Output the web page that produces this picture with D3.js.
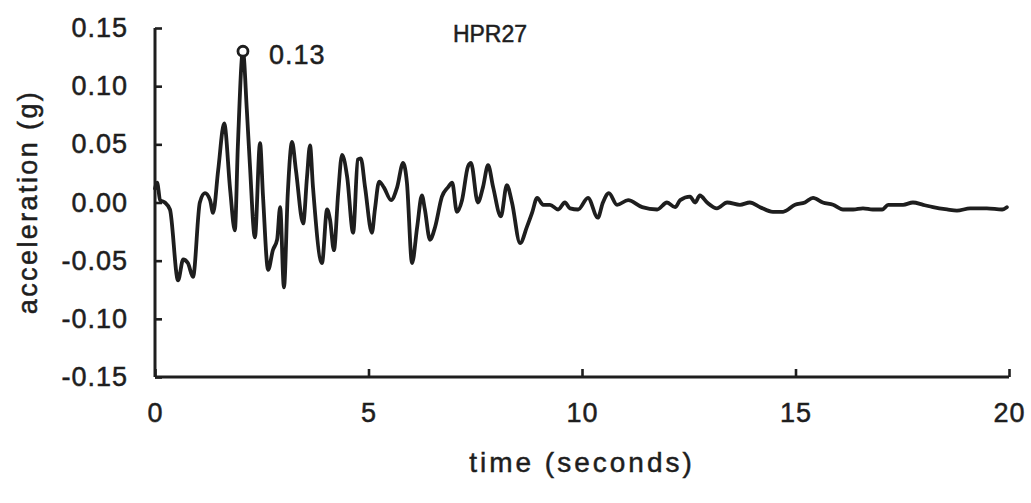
<!DOCTYPE html>
<html>
<head>
<meta charset="utf-8">
<script src="https://cdn.jsdelivr.net/npm/d3@7"></script>
<style>
  html, body { margin: 0; padding: 0; background: #ffffff; }
  svg { display: block; }
  text { font-family: "Liberation Sans", Arial, Helvetica, sans-serif; fill: #1e1e1e; stroke: #1e1e1e; stroke-width: 0.5px; }
</style>
</head>
<body>
<svg id="chart" width="1031" height="503"></svg>
<script>
// ---- data ----
const title = "HPR27";
const xLabel = "time (seconds)";
const yLabel = "acceleration (g)";
const xTicks = [0, 5, 10, 15, 20];
const yTicks = [0.15, 0.10, 0.05, 0.00, -0.05, -0.10, -0.15];
const peakTime = 2.06;
const peakValue = 0.13;
const peakText = "0.13";

const times = [
  0.00, 0.05, 0.12, 0.23, 0.35, 0.54, 0.66, 0.77, 0.89, 1.05,
  1.17, 1.29, 1.36, 1.48, 1.62, 1.76, 1.87, 1.94, 2.06, 2.15,
  2.22, 2.34, 2.46, 2.53, 2.65, 2.76, 2.86, 2.93, 3.02, 3.11,
  3.21, 3.30, 3.47, 3.56, 3.63, 3.70, 3.91, 4.03, 4.10, 4.19,
  4.29, 4.38, 4.50, 4.64, 4.75, 4.82, 4.92, 5.08, 5.15, 5.25,
  5.36, 5.53, 5.67, 5.81, 5.90, 6.02, 6.14, 6.25, 6.32, 6.44,
  6.56, 6.72, 6.86, 6.96, 7.07, 7.19, 7.33, 7.40, 7.56, 7.68,
  7.80, 7.92, 8.10, 8.24, 8.36, 8.55, 8.71, 8.83, 8.95, 9.09,
  9.25, 9.44, 9.60, 9.72, 9.91, 10.14, 10.37, 10.49, 10.63, 10.82,
  11.08, 11.41, 11.76, 11.99, 12.18, 12.30, 12.53, 12.65, 12.76, 12.93,
  13.16, 13.40, 13.70, 13.93, 14.17, 14.47, 14.71, 14.99, 15.22, 15.41,
  15.64, 15.88, 16.11, 16.35, 16.58, 16.81, 17.03, 17.17, 17.52, 17.75,
  17.99, 18.22, 18.55, 18.78, 19.09, 19.48, 19.84, 19.95
];
const accel = [
  0.012, 0.017, 0.002, 0.000, -0.006, -0.067, -0.049, -0.052, -0.064, 0.000,
  0.008, 0.002, -0.009, 0.028, 0.068, 0.011, -0.024, 0.048, 0.130, 0.080,
  0.034, -0.030, 0.051, 0.005, -0.058, -0.041, -0.032, -0.004, -0.073, 0.008,
  0.052, 0.028, -0.018, 0.022, 0.049, 0.013, -0.052, -0.006, -0.015, -0.041,
  0.008, 0.041, 0.022, -0.026, 0.037, 0.038, 0.013, -0.026, -0.006, 0.018,
  0.013, 0.002, 0.013, 0.034, 0.017, -0.052, -0.021, 0.006, -0.006, -0.032,
  -0.021, 0.005, 0.013, 0.017, -0.008, 0.002, 0.031, 0.034, 0.000, 0.013,
  0.032, 0.013, -0.012, 0.015, 0.000, -0.035, -0.021, -0.009, 0.004, -0.002,
  -0.002, -0.006, 0.000, -0.005, -0.006, 0.004, -0.013, 0.000, 0.008, -0.002,
  0.002, -0.004, -0.006, 0.000, -0.004, 0.002, 0.005, 0.000, 0.006, 0.000,
  -0.005, 0.000, -0.002, 0.000, -0.004, -0.008, -0.008, -0.002, 0.000, 0.004,
  0.000, -0.002, -0.006, -0.006, -0.005, -0.006, -0.006, -0.002, -0.002, 0.000,
  -0.002, -0.004, -0.006, -0.007, -0.005, -0.005, -0.006, -0.004
];

// ---- layout ----
const svg = d3.select("#chart");
const x = d3.scaleLinear().domain([0, 20]).range([155, 1009]);
const y = d3.scaleLinear().domain([-0.15, 0.15]).range([377, 28]);
const ink = "#1e1e1e";
const fs = 27;

// axes
const yAxis = d3.axisLeft(y).tickValues(yTicks).tickSize(-7).tickPadding(27)
  .tickFormat(d => d.toFixed(2));
const gy = svg.append("g").attr("transform", `translate(${x(0)},0)`).call(yAxis);
const xAxis = d3.axisBottom(x).tickValues(xTicks).tickSize(-8).tickPadding(26)
  .tickFormat(d => String(d));
const gx = svg.append("g").attr("transform", `translate(0,${y(-0.15)})`).call(xAxis);

[gy, gx].forEach(g => {
  g.select(".domain").attr("stroke", ink).attr("stroke-width", 3);
  g.selectAll(".tick line").attr("stroke", ink).attr("stroke-width", 2.6);
  g.selectAll(".tick text").attr("fill", ink).attr("stroke", ink).attr("stroke-width", 0.5)
    .style("font-size", fs + "px").style("letter-spacing", "1px")
    .style("font-family", '"Liberation Sans", Arial, sans-serif');
});
gy.select(".domain").attr("d", `M0,${y(0.15)}V${y(-0.15)}`);
gx.select(".domain").attr("d", `M${x(0)},0H${x(20)}`);

// signal
const pts = times.map((t, i) => [t, accel[i]]);
const line = d3.line().x(d => x(d[0])).y(d => y(d[1])).curve(d3.curveMonotoneX);
svg.append("path").datum(pts).attr("d", line)
  .attr("fill", "none").attr("stroke", ink).attr("stroke-width", 3.8)
  .attr("stroke-linejoin", "round").attr("stroke-linecap", "round");

// peak marker
svg.append("circle").attr("cx", x(peakTime)).attr("cy", y(peakValue)).attr("r", 5)
  .attr("fill", "#fff").attr("stroke", ink).attr("stroke-width", 2.8);
svg.append("text").attr("x", x(peakTime) + 26).attr("y", y(peakValue) + 13)
  .style("font-size", fs + "px").style("letter-spacing", "1px").text(peakText);

// title
svg.append("text").attr("x", 490).attr("y", 42).attr("text-anchor", "middle")
  .style("font-size", "23px").text(title);

// axis labels
svg.append("text").attr("x", x(10)).attr("y", 472).attr("text-anchor", "middle")
  .style("font-size", "28px").style("letter-spacing", "3px").text(xLabel);
svg.append("text").attr("transform", `translate(37,202) rotate(-90)`)
  .attr("text-anchor", "middle").style("font-size", "27px").style("letter-spacing", "2.4px")
  .text(yLabel);
</script>
</body>
</html>
